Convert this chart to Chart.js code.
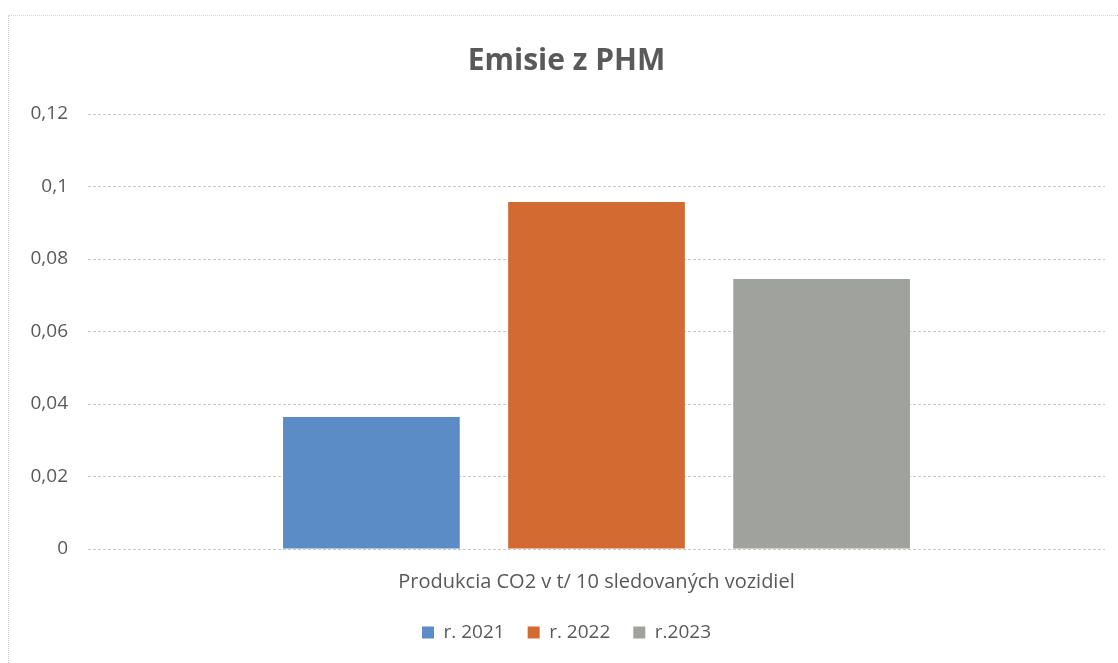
<!DOCTYPE html>
<html>
<head>
<meta charset="utf-8">
<script src="https://cdn.jsdelivr.net/npm/chart.js@4"></script>
<style>
  html, body { margin: 0; padding: 0; background: #fff; }
  #wrap { width: 1118px; height: 663px; position: relative; }
  #frame {
    position: absolute; left: 8px; top: 15px; right: -2px; bottom: -2px;
    border-left: 1px dotted #cfcfcf; border-top: 1px dotted #d6d6d6;
    pointer-events: none;
  }
</style>
</head>
<body>
<div id="wrap"><canvas id="chart"></canvas><div id="frame"></div></div>
<script>
const categories = ["Produkcia CO2 v t/ 10 sledovaných vozidiel"];
const seriesNames = ["r. 2021", "r. 2022", "r.2023"];
const seriesValues = [[0.0364], [0.0957], [0.0745]];
const seriesColors = ["#5b8cc6", "#d36a32", "#a0a29d"];
const yTicks = [0, 0.02, 0.04, 0.06, 0.08, 0.1, 0.12];

const textColor = "#595959";
const fontFamily = "'Open Sans', 'Noto Sans', sans-serif";

const ctx = document.getElementById("chart");
new Chart(ctx, {
  type: "bar",
  data: {
    labels: categories,
    datasets: seriesNames.map((name, i) => ({
      label: name,
      data: seriesValues[i],
      backgroundColor: seriesColors[i],
      borderWidth: 0,
      barPercentage: 0.785,
      categoryPercentage: 0.664,
    })),
  },
  options: {
    responsive: true,
    maintainAspectRatio: false,
    animation: false,
    layout: { padding: { left: 28, right: 13, top: 0, bottom: 11 } },
    plugins: {
      title: {
        display: true,
        text: "Emisie z PHM",
        color: textColor,
        font: { family: fontFamily, size: 30, weight: "bold" },
        padding: { top: 43, bottom: 35 },
      },
      legend: {
        position: "bottom",
        labels: { color: textColor, font: { family: fontFamily, size: 19 }, boxWidth: 12, boxHeight: 12, padding: 23 },
      },
      tooltip: { enabled: false },
    },
    scales: {
      x: {
        afterFit: (axis) => { axis.height = 51; },
        grid: { display: false, drawTicks: false },
        border: { display: false },
        ticks: { color: textColor, font: { family: fontFamily, size: 20 }, padding: 21 },
      },
      y: {
        min: 0,
        max: 0.12,
        afterFit: (axis) => { axis.width = 60; },
        afterBuildTicks: (axis) => { axis.ticks = yTicks.map((v) => ({ value: v })); },
        grid: { color: "#c9c9c9", drawTicks: false },
        border: { display: false, dash: [3, 2] },
        ticks: {
          color: textColor,
          font: { family: fontFamily, size: 19 },
          padding: 20,
          callback: (v) => String(Math.round(v * 100) / 100).replace(".", ","),
        },
      },
    },
  },
});
</script>
</body>
</html>
